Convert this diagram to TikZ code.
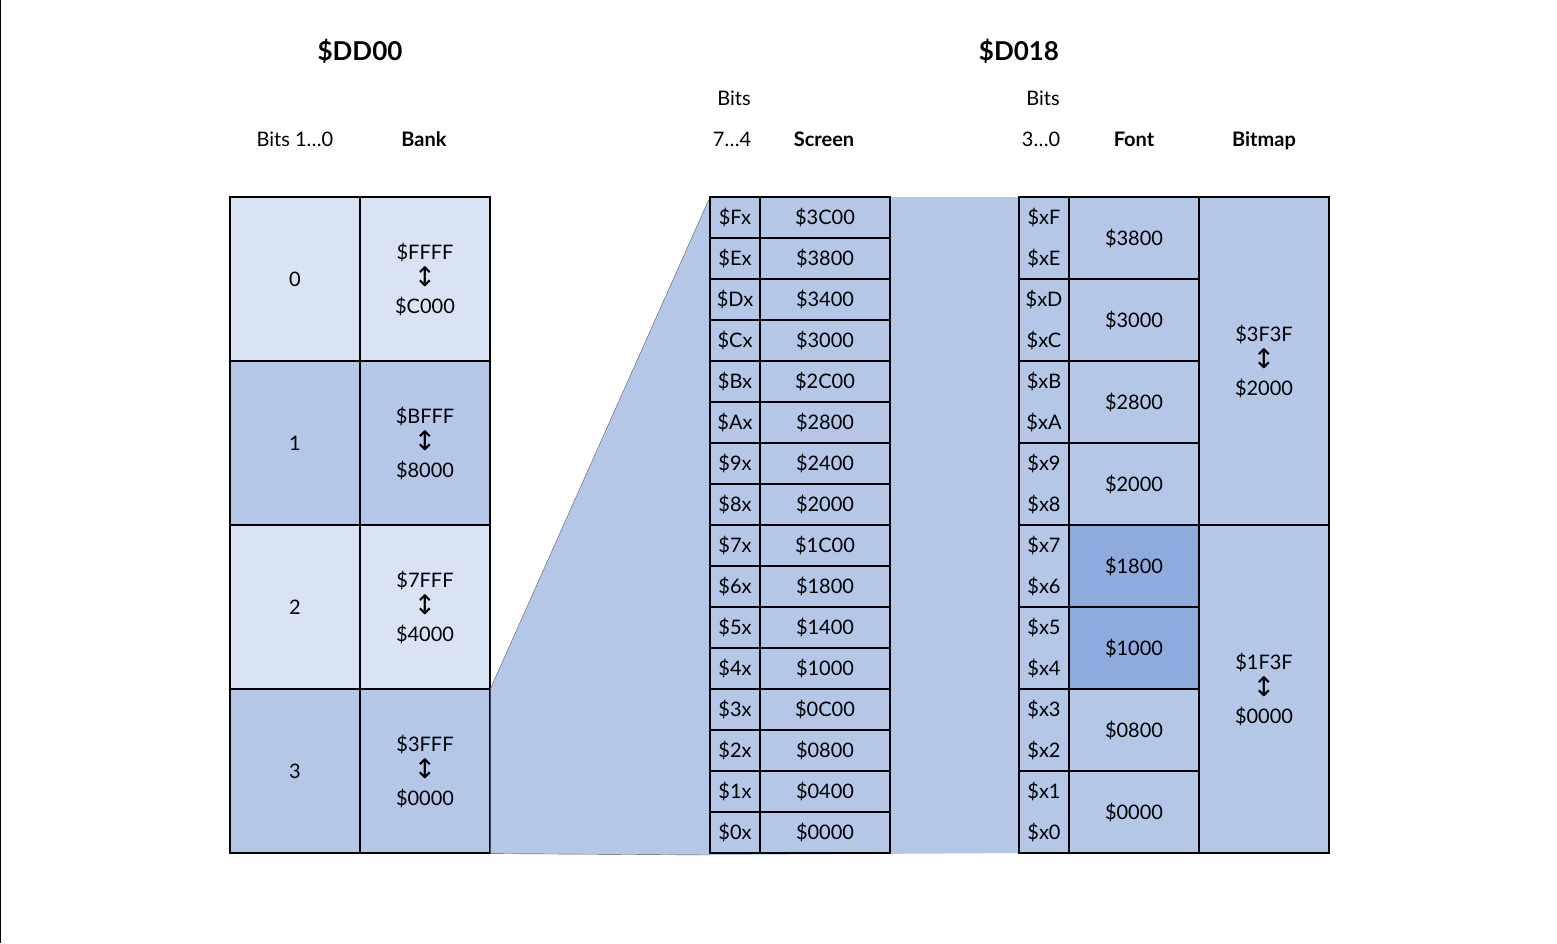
\documentclass[tikz,border=0pt]{standalone}
\usepackage{fontspec}
\setmainfont{Lato}
\newfontfamily\symfont{DejaVu Sans}
\definecolor{paleblue}{HTML}{DAE3F3}
\definecolor{midblue}{HTML}{B4C7E7}
\definecolor{deepblue}{HTML}{8FAADC}
\newcommand{\range}[2]{\$#1\\{\fontsize{27}{27}\selectfont\symfont ↕}\\\$#2}
\newcommand{\headfont}[0]{\fontsize{26}{30}\selectfont\bfseries}
\newcommand{\colfont}[0]{\fontsize{20}{24}\selectfont}

\tikzset{
	cell/.style={draw, line width=1.2pt, inner sep=0pt, align=center, font=\fontsize{20}{27}\selectfont},
	bankcell/.style={cell, minimum width=130pt, minimum height=164pt},
	narrow/.style={cell, fill=midblue, minimum width=50pt, minimum height=41pt},
	wide/.style={cell, fill=midblue, minimum width=130pt, minimum height=41pt},
	pair/.style={cell, fill=midblue, minimum width=50pt, minimum height=82pt, font=\fontsize{20}{41}\selectfont},
	fontcell/.style={cell, minimum width=130pt, minimum height=82pt},
	mapcell/.style={cell, fill=midblue, minimum width=130pt, minimum height=328pt},
	colhead/.style={font=\colfont, text height=15pt, text depth=5pt},
	boldhead/.style={colhead, font=\colfont\bfseries}
}

\begin{document}
\begin{tikzpicture}[x=1pt, y=-1pt]
	\useasboundingbox (0,0) rectangle (1557,943);
	\draw[line width=1pt] (0.5,0) -- (0.5,943);
	% headings
	\node[font=\headfont] (dd00) at (360,51) {\$DD00};
	\node[font=\headfont] (d018) at (1019,51) {\$D018};
	\node[colhead] (bitsbank) at (295,141) {Bits 1…0};
	\node[boldhead] (bank) at (424,141) {Bank};
	\node[colhead] (bitsscr) at (734,100) {Bits};
	\node[colhead] (bitsscrb) at (732,141) {7…4};
	\node[boldhead] (screen) at (824,141) {Screen};
	\node[colhead] (bitsfnt) at (1043,100) {Bits};
	\node[colhead] (bitsfntb) at (1041,141) {3…0};
	\node[boldhead] (font) at (1134,141) {Font};
	\node[boldhead] (bitmap) at (1264,141) {Bitmap};
	% $DD00 banks
	\foreach \b/\hi/\lo/\col [count=\i from 0] in {0/FFFF/C000/paleblue, 1/BFFF/8000/midblue, 2/7FFF/4000/paleblue, 3/3FFF/0000/midblue}{
		\node[bankcell, fill=\col] (bits\i) at (295,279+164*\i) {\b};
		\node[bankcell, fill=\col] (bank\i) at (425,279+164*\i) {\range{\hi}{\lo}};
	}
	% zoom wedge and band
	\coordinate (wedgelow) at (710,855);
	\fill[midblue] (bank3.north east) -- (710,197) -- (1019,197) -- (1019,853) -- (wedgelow) -- (bank3.south east) -- cycle;
	\draw[gray!70!black] (bank3.north east) -- (710,197);
	\draw[gray!70!black] (bank3.south east) -- (wedgelow);
	% screen
	\foreach \hi/\addr [count=\i from 0] in {F/3C00, E/3800, D/3400, C/3000, B/2C00, A/2800, 9/2400, 8/2000, 7/1C00, 6/1800, 5/1400, 4/1000, 3/0C00, 2/0800, 1/0400, 0/0000}{
		\node[narrow] (scrbits\i) at (735,217.5+41*\i) {\$\hi x};
		\node[wide] (scr\i) at (825,217.5+41*\i) {\$\addr};
	}
	% font
	\foreach \hi/\lo/\addr/\col [count=\i from 0] in {F/E/3800/midblue, D/C/3000/midblue, B/A/2800/midblue, 9/8/2000/midblue, 7/6/1800/deepblue, 5/4/1000/deepblue, 3/2/0800/midblue, 1/0/0000/midblue}{
		\node[pair] (fntbits\i) at (1044,238+82*\i) {\$x\hi\\\$x\lo};
		\node[fontcell, fill=\col] (fnt\i) at (1134,238+82*\i) {\$\addr};
	}
	% bitmap
	\node[mapcell] (map0) at (1264,361) {\range{3F3F}{2000}};
	\node[mapcell] (map1) at (1264,689) {\range{1F3F}{0000}};
\end{tikzpicture}
\end{document}
